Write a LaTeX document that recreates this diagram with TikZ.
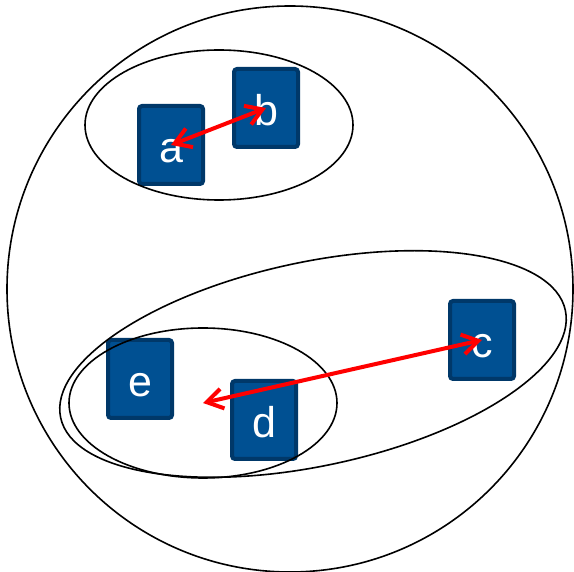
\documentclass[tikz,border=0pt]{standalone}
\usepackage{fontspec}
\setmainfont{Liberation Sans}
\usetikzlibrary{shapes.geometric,arrows.meta}
\definecolor{boxblue}{RGB}{0,80,146}
\definecolor{boxedge}{RGB}{0,56,105}
\tikzset{
    item/.style={rectangle, draw=boxedge, fill=boxblue, line width=2pt, rounded corners=1.5pt, minimum width=32pt, minimum height=39pt, inner sep=0pt, text=white, font=\fontsize{21.5}{21.5}\selectfont, text height=18pt, text depth=0pt},
    group/.style={ellipse, draw, line width=0.8pt, inner sep=0pt, minimum width=134pt, minimum height=75pt},
    link/.style={draw=red, line width=2pt, {Straight Barb[length=8pt,width=10pt]}-{Straight Barb[length=8pt,width=10pt]}}
}

\begin{document}
\begin{tikzpicture}[x=0.5pt, y=-0.5pt]
    \useasboundingbox (0,0) rectangle (574,572);
    % elements
    \node [item] (a) at (171,145) {a};
    \node [item] (b) at (266,108) {b};
    \node [item] (c) at (482,340) {c};
    \node [item] (e) at (140,379) {e};
    \node [item] (d) at (264,420) {d};

    % groups
    \node [circle, draw, line width=0.8pt, inner sep=0pt, minimum size=283pt] (all) at (290,289) {};
    \node [group] (ab) at (219,125) {};
    \node [group] (de) at (203,403) {};
    \node [group, minimum width=258pt, minimum height=102pt, rotate=12] (cde) at (313,364) {};

    % links
    \path [link] (a.center) -- (b.center);
    \path [link] (de.center) -- (c.center);
\end{tikzpicture}
\end{document}
